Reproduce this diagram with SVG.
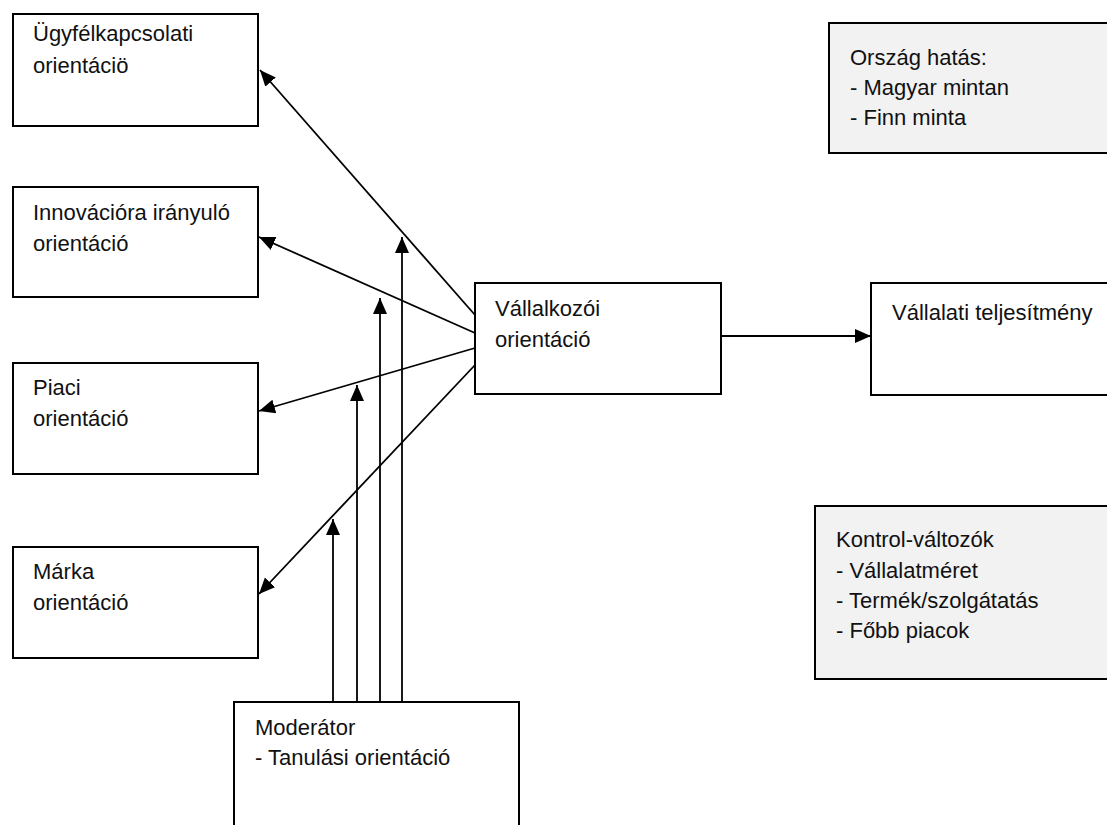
<svg xmlns="http://www.w3.org/2000/svg" width="1107" height="825" viewBox="0 0 1107 825">
<style>
.box{fill:#ffffff;stroke:#000;stroke-width:2}
.gbox{fill:#f2f2f2;stroke:#000;stroke-width:2}
.t{font-family:"Liberation Sans",Arial,sans-serif;font-size:22px;fill:#111}
.c{stroke:#000;stroke-width:1.8;fill:none;marker-end:url(#ah)}
</style>
<defs>
<marker id="ah" markerUnits="userSpaceOnUse" markerWidth="17" markerHeight="15" refX="16" refY="7" orient="auto">
<path d="M0,0 L16,7 L0,14 z" fill="#000"/>
</marker>
</defs>
<rect width="1107" height="825" fill="#fff"/>
<g id="n-ugyfel">
<rect class="box" x="13" y="14" width="245" height="112"/>
<text class="t" x="33" y="41">Ügyfélkapcsolati</text>
<text class="t" x="33" y="73">orientáciö</text>
</g>
<g id="n-innov">
<rect class="box" x="13" y="187" width="245" height="110"/>
<text class="t" x="33" y="220">Innovációra irányuló</text>
<text class="t" x="33" y="251">orientáció</text>
</g>
<g id="n-piaci">
<rect class="box" x="13" y="363" width="245" height="111"/>
<text class="t" x="33" y="395">Piaci</text>
<text class="t" x="33" y="426">orientáció</text>
</g>
<g id="n-marka">
<rect class="box" x="13" y="547" width="245" height="111"/>
<text class="t" x="33" y="579">Márka</text>
<text class="t" x="33" y="610">orientáció</text>
</g>
<g id="n-vallalkozoi">
<rect class="box" x="475" y="283" width="246" height="111"/>
<text class="t" x="495" y="316">Vállalkozói</text>
<text class="t" x="495" y="347">orientáció</text>
</g>
<g id="n-teljesitmeny">
<rect class="box" x="871" y="283" width="250" height="112"/>
<text class="t" x="892" y="320">Vállalati teljesítmény</text>
</g>
<g id="n-orszag">
<rect class="gbox" x="829" y="23" width="290" height="130"/>
<text class="t" x="850" y="65">Ország hatás:</text>
<text class="t" x="850" y="95">- Magyar mintan</text>
<text class="t" x="850" y="125">- Finn minta</text>
</g>
<g id="n-kontrol">
<rect class="gbox" x="815" y="506" width="305" height="173"/>
<text class="t" x="836" y="547">Kontrol-változók</text>
<text class="t" x="836" y="578">- Vállalatméret</text>
<text class="t" x="836" y="608">- Termék/szolgátatás</text>
<text class="t" x="836" y="638">- Főbb piacok</text>
</g>
<g id="n-moderator">
<rect class="box" x="234" y="702" width="285" height="140"/>
<text class="t" x="255" y="735">Moderátor</text>
<text class="t" x="255" y="765">- Tanulási orientáció</text>
</g>
<g id="connectors">
<line class="c" x1="475" y1="315" x2="260" y2="70"/>
<line class="c" x1="475" y1="333" x2="259" y2="237"/>
<line class="c" x1="475" y1="348" x2="259" y2="411"/>
<line class="c" x1="475" y1="365" x2="259" y2="594"/>
<line class="c" x1="721" y1="336" x2="871" y2="336"/>
<line class="c" x1="333" y1="702" x2="333" y2="519"/>
<line class="c" x1="357" y1="702" x2="357" y2="385"/>
<line class="c" x1="380" y1="702" x2="380" y2="298"/>
<line class="c" x1="402" y1="702" x2="402" y2="237"/>
</g>
</svg>
